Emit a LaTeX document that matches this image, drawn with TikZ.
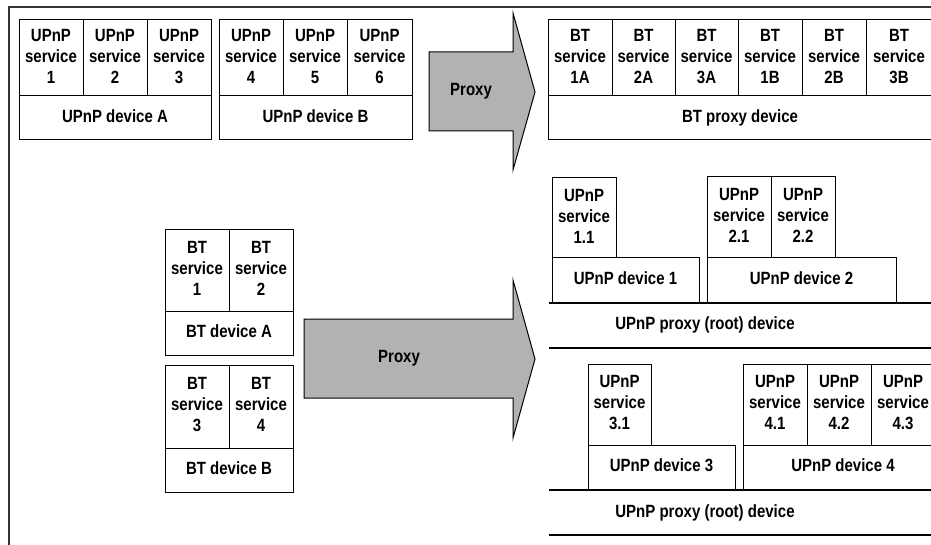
\documentclass[tikz,border=0pt]{standalone}
\usepackage{fontspec}
\usepackage{graphicx}
\setmainfont{Liberation Sans}
% labels are set in bold sans, stretched a little upward
\newcommand{\tallbox}[1]{\scalebox{1}[1.18]{\begin{tabular}{@{}c@{}}#1\end{tabular}}}
\begin{document}
\begin{tikzpicture}[x=1pt,y=-1pt,
  every node/.style={inner sep=0pt, outer sep=0pt},
  box/.style={draw=black, line width=1pt, anchor=north west, align=center,
    font=\bfseries\fontsize{15}{17.8}\selectfont},
  lbl/.style={align=center, font=\bfseries\fontsize{15}{17.8}\selectfont},
  blockarrow/.style={draw=black, line width=1pt, fill=arrowgray, line join=miter},
  frame/.style={draw=black!80, line width=1.2pt},
  rootline/.style={draw=black, line width=1.2pt}]
\definecolor{arrowgray}{RGB}{178,178,178}
\useasboundingbox (0,0) rectangle (931,545);
\clip (0,0) rectangle (931,545);

% outer frame (top and left edges)
\coordinate (fTL) at (9,7);
\coordinate (fTR) at (940,7);
\coordinate (fBL) at (9,550);
\draw[frame] (fTR) -- (fTL) -- (fBL);

% cell macro: name, x, y, width, height, text
\newcommand{\cell}[6]{\node[box, minimum width=#4pt, minimum height=#5pt] (#1) at (#2,#3) {\tallbox{#6}};}

% ---- UPnP devices A and B (top left)
\cell{sA1}{19}{20}{64}{76}{UPnP\\service\\1}
\cell{sA2}{83}{20}{64}{76}{UPnP\\service\\2}
\cell{sA3}{147}{20}{64}{76}{UPnP\\service\\3}
\cell{devA}{19}{96}{192}{44}{UPnP device A}
\cell{sB4}{219}{20}{64}{76}{UPnP\\service\\4}
\cell{sB5}{283}{20}{64}{76}{UPnP\\service\\5}
\cell{sB6}{347}{20}{65}{76}{UPnP\\service\\6}
\cell{devB}{219}{96}{193}{44}{UPnP device B}

% ---- first proxy arrow
\draw[blockarrow] (429,52) -- (513,52) -- (513,13) -- (535,92) -- (513,170)
  -- (513,131) -- (429,131) -- cycle;
\node[lbl] (proxyA) at (471,91) {\tallbox{Proxy}};

% ---- BT proxy device (top right)
\cell{bt1A}{548}{20}{64}{76}{BT\\service\\1A}
\cell{bt2A}{612}{20}{63}{76}{BT\\service\\2A}
\cell{bt3A}{675}{20}{63}{76}{BT\\service\\3A}
\cell{bt1B}{738}{20}{64}{76}{BT\\service\\1B}
\cell{bt2B}{802}{20}{64}{76}{BT\\service\\2B}
\cell{bt3B}{866}{20}{66}{76}{BT\\service\\3B}
\cell{btproxy}{548}{96}{384}{44}{BT proxy device}

% ---- BT devices A and B (middle left)
\cell{bts1}{165}{230}{64}{81}{BT\\service\\1}
\cell{bts2}{229}{230}{64}{81}{BT\\service\\2}
\cell{btdevA}{165}{311}{128}{44}{BT device A}
\cell{bts3}{165}{365}{64}{83}{BT\\service\\3}
\cell{bts4}{229}{365}{64}{83}{BT\\service\\4}
\cell{btdevB}{165}{448}{128}{44}{BT device B}

% ---- second proxy arrow
\draw[blockarrow] (304,319) -- (513,319) -- (513,280) -- (535,359) -- (513,438)
  -- (513,398) -- (304,398) -- cycle;
\node[lbl] (proxyB) at (399,358) {\tallbox{Proxy}};

% ---- first UPnP proxy (root) device
\cell{u11}{552}{178}{64}{80}{UPnP\\service\\1.1}
\cell{udev1}{552}{258}{147}{44}{UPnP device 1}
\cell{u21}{707}{177}{64}{81}{UPnP\\service\\2.1}
\cell{u22}{771}{177}{64}{81}{UPnP\\service\\2.2}
\cell{udev2}{707}{258}{189}{44}{UPnP device 2}
\coordinate (r1a) at (549,303);
\coordinate (r1b) at (940,303);
\coordinate (r1c) at (549,348);
\coordinate (r1d) at (940,348);
\draw[rootline] (r1a) -- (r1b);
\draw[rootline] (r1c) -- (r1d);
\node[lbl] (root1) at (705,325) {\tallbox{UPnP proxy (root) device}};

% ---- second UPnP proxy (root) device
\cell{u31}{588}{364}{63}{81}{UPnP\\service\\3.1}
\cell{udev3}{588}{445}{147}{44}{UPnP device 3}
\cell{u41}{743}{364}{64}{81}{UPnP\\service\\4.1}
\cell{u42}{807}{364}{64}{81}{UPnP\\service\\4.2}
\cell{u43}{871}{364}{64}{81}{UPnP\\service\\4.3}
\cell{udev4}{743}{445}{200}{44}{UPnP device 4}
\coordinate (r2a) at (549,490);
\coordinate (r2b) at (940,490);
\coordinate (r2c) at (549,535);
\coordinate (r2d) at (940,535);
\draw[rootline] (r2a) -- (r2b);
\draw[rootline] (r2c) -- (r2d);
\node[lbl] (root2) at (705,513) {\tallbox{UPnP proxy (root) device}};
\end{tikzpicture}
\end{document}
